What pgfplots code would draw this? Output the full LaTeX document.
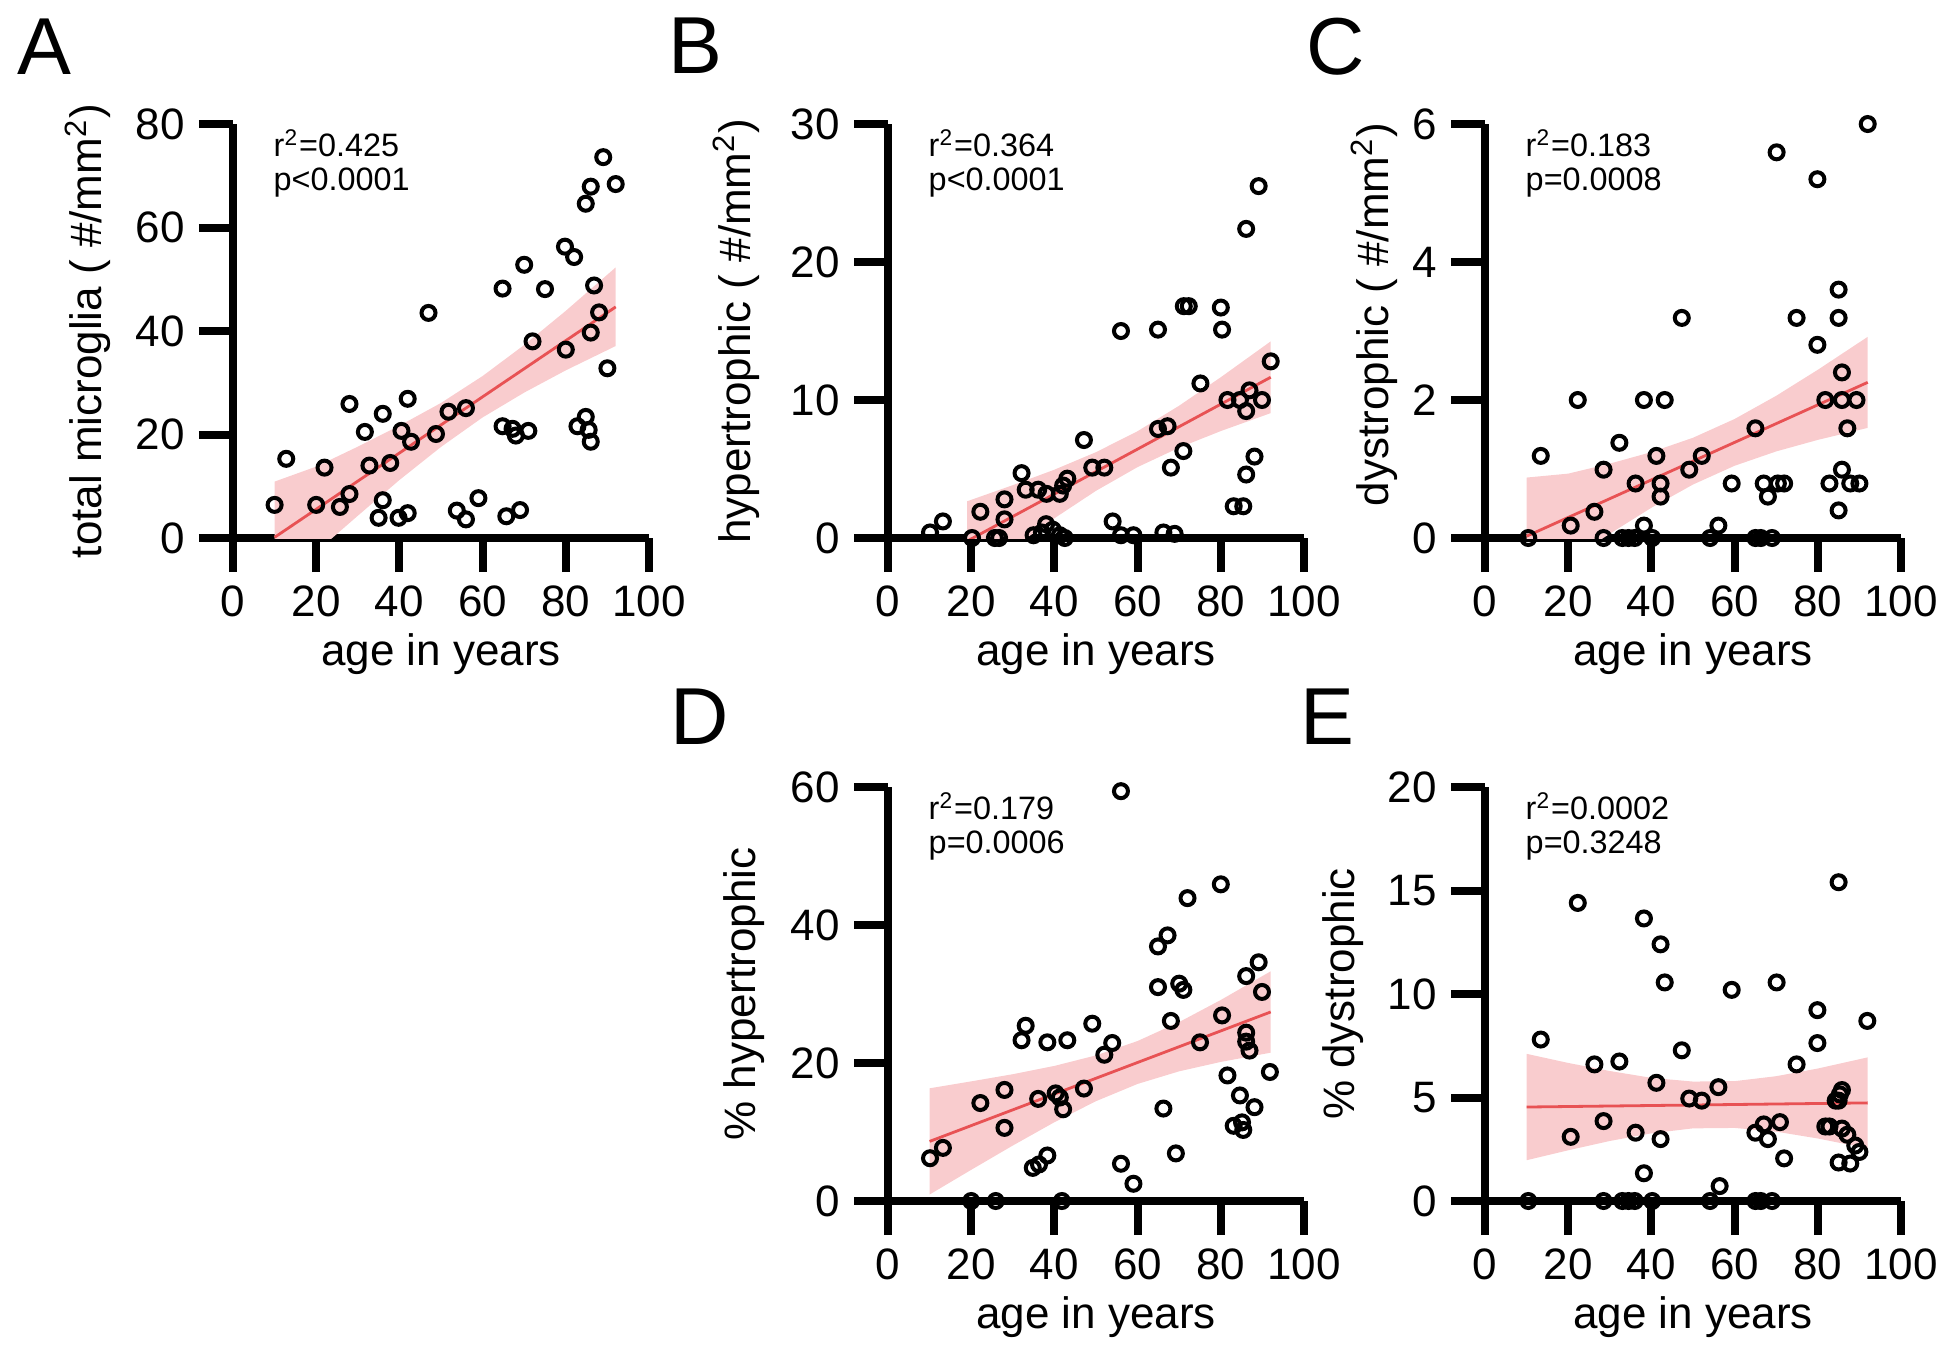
\documentclass[border=0pt]{standalone}
\usepackage{fontspec}
\setmainfont{Liberation Sans}
\usepackage{pgfplots}
\pgfplotsset{compat=1.18}
\definecolor{bandpink}{RGB}{249,204,206}
\definecolor{fitred}{RGB}{232,82,84}
\pgfplotsset{
  panel/.style={
    scale only axis, width=104pt, height=103.5pt,
    anchor=south west,
    axis lines=left,
    axis line style={-, line width=2pt, black},
    xmin=0, xmax=100, ymin=0,
    xtick={0,20,...,100},
    tick align=outside,
    major tick length=8.5pt,
    tick style={line width=2pt, black},
    /pgf/number format/assume math mode=true,
    ticklabel style={font=\fontsize{11}{13}\selectfont},
    label style={font=\fontsize{11}{13}\selectfont},
    xlabel={age in years},
    xlabel style={at={(axis description cs:0.5,-0.309)}, anchor=base},
    clip mode=individual,
  },
  pts/.style={only marks, mark=o, mark size=1.75pt, mark options={line width=1pt, draw=black}},
  band/.style={fill=bandpink, draw=none},
  fit/.style={fitred, line width=0.7pt, no marks},
}
\newcommand{\stat}[2]{\node[anchor=north west, inner sep=0pt, align=left, font=\fontsize{8.1}{8.5}\selectfont] at (rel axis cs:0.096,0.988) {#1\\#2};}
\begin{document}
\begin{tikzpicture}
\useasboundingbox (0,0) rectangle (487.5pt,338pt);
\node[anchor=base west, inner sep=0pt, font=\fontsize{20.2}{24}\selectfont] at (4.25pt,319.25pt) {A};
\node[anchor=base west, inner sep=0pt, font=\fontsize{20.2}{24}\selectfont] at (167pt,319.5pt) {B};
\node[anchor=base west, inner sep=0pt, font=\fontsize{20.2}{24}\selectfont] at (326.5pt,319.25pt) {C};
\node[anchor=base west, inner sep=0pt, font=\fontsize{20.2}{24}\selectfont] at (167.5pt,152pt) {D};
\node[anchor=base west, inner sep=0pt, font=\fontsize{20.2}{24}\selectfont] at (325pt,152pt) {E};

% Panel A
\begin{axis}[panel, at={(58.25pt,203.5pt)}, ymax=80, ytick={0,20,...,80},
  ylabel={total microglia ( \#/mm\textsuperscript{2})},
  ylabel style={at={(axis description cs:-0.349,0.5)}, anchor=center}]
\addplot[band] coordinates {(10,10.9)(20,13.8)(30,17.65)(40,21.7)(50,26.1)(60,31.3)(70,37.3)(80,43.9)(92,52.3)
 (92,37.1)(80,32.4)(70,28.1)(60,23.3)(50,17.6)(40,11.2)(30,4.3)(20,-2.7)(10,-10.7)} -- cycle;
\addplot[fit] coordinates {(10,0.13)(92,44.66)};
\addplot[pts] coordinates {(10,6.4)(12.8,15.3)(20,6.4)(22,13.6)(25.7,6.0)(28,8.5)(28,25.9)(31.7,20.5)(32.8,14.0)(36,24.0)(36,7.3)(35,3.9)(37.8,14.5)(39.8,3.9)(42,4.8)(40.5,20.7)(42.8,18.6)(42,26.9)(47,43.5)(48.8,20.1)(51.8,24.4)(56,25.1)(53.8,5.3)(56,3.6)(59,7.7)(64.8,48.2)(64.8,21.6)(65.7,4.2)(67.2,21.1)(68,19.8)(69,5.4)(70,52.8)(71,20.7)(72,38.0)(75,48.1)(79.8,56.3)(82,54.3)(80,36.4)(82.8,21.6)(84.8,23.4)(85.5,20.9)(86,18.6)(84.8,64.6)(86,67.9)(86.8,48.8)(86,39.7)(88,43.6)(89,73.6)(92,68.4)(90,32.8)};
\stat{r\textsuperscript{2}=0.425}{p<0.0001}
\end{axis}

% Panel B
\begin{axis}[panel, at={(222pt,203.5pt)}, ymax=30, ytick={0,10,20,30},
  ylabel={hypertrophic ( \#/mm\textsuperscript{2})},
  ylabel style={at={(axis description cs:-0.365,0.5)}, anchor=center}]
\addplot[band] coordinates {(19,2.66)(30,3.83)(40,4.95)(50,6.22)(60,7.74)(70,9.59)(80,11.65)(92,14.25)
 (92,9.05)(80,7.75)(70,6.55)(60,5.14)(50,3.42)(40,1.43)(30,-0.71)(19,-3.12)} -- cycle;
\addplot[fit] coordinates {(19,-0.23)(92,11.65)};
\addplot[pts] coordinates {(10.1,0.4)(13.2,1.2)(20.2,0)(22.2,1.9)(25.7,0)(26.7,0)(28,2.8)(28,1.35)(32.1,4.7)(33.1,3.5)(36.1,3.5)(38.1,3.2)(41.3,3.2)(42.1,3.8)(43.1,4.3)(35,0.2)(37,0.4)(38,1.0)(39.6,0.6)(41.3,0.2)(42.5,0)(47.1,7.1)(49.1,5.1)(52,5.1)(54,1.2)(56,15.0)(56,0.2)(59,0.2)(64.9,15.1)(64.9,7.9)(67.2,8.1)(66.2,0.4)(68.9,0.3)(68,5.1)(71,6.3)(71.1,16.8)(72.3,16.8)(75.1,11.2)(80,16.7)(80.3,15.1)(81.6,10.0)(83.1,2.3)(85.4,2.3)(84.6,10.0)(86.1,9.2)(86.9,10.7)(86.1,4.6)(86.1,22.4)(88.1,5.9)(89.1,25.5)(89.9,10.0)(92,12.8)};
\stat{r\textsuperscript{2}=0.364}{p<0.0001}
\end{axis}

% Panel C
\begin{axis}[panel, at={(371.25pt,203.5pt)}, ymax=6, ytick={0,2,4,6},
  ylabel={dystrophic ( \#/mm\textsuperscript{2})},
  ylabel style={at={(axis description cs:-0.266,0.54)}, anchor=center}]
\addplot[band] coordinates {(10,0.876)(20,0.933)(30,1.078)(40,1.245)(50,1.453)(60,1.725)(70,2.061)(80,2.438)(92,2.916)
 (92,1.596)(80,1.422)(70,1.255)(60,1.047)(50,0.775)(40,0.439)(30,0.062)(20,-0.337)(10,-0.82)} -- cycle;
\addplot[fit] coordinates {(10,0.026)(92,2.256)};
\addplot[pts] coordinates {(10.4,0)(13.4,1.19)(20.6,0.18)(22.3,2.0)(26.3,0.38)(28.5,0.99)(28.5,0)(32.3,1.38)(33,0)(34.5,0)(36,0)(36.2,0.79)(38.2,2.0)(38.2,0.18)(40.2,0)(41.2,1.19)(42.2,0.79)(42.2,0.6)(43.2,2.0)(47.3,3.19)(49.1,0.99)(52.1,1.19)(54.1,0)(56.1,0.18)(59.3,0.79)(65,1.59)(65,0)(66.3,0)(69,0)(67,0.79)(68,0.6)(70.1,5.59)(70.4,0.79)(71.9,0.79)(74.9,3.19)(79.9,5.2)(79.9,2.8)(81.8,2.0)(82.8,0.79)(85,0.4)(85,3.6)(85,3.19)(85.8,2.4)(85.8,2.0)(85.8,0.99)(87.1,1.59)(87.8,0.79)(89.3,2.0)(90,0.79)(92,6.0)};
\stat{r\textsuperscript{2}=0.183}{p=0.0008}
\end{axis}

% Panel D
\begin{axis}[panel, at={(222pt,37.75pt)}, ymax=60, ytick={0,20,40,60},
  ylabel={\% hypertrophic},
  ylabel style={at={(axis description cs:-0.346,0.5)}, anchor=center}]
\addplot[band] coordinates {(10,16.34)(20,17.34)(30,18.38)(40,19.58)(50,21.11)(60,23.19)(70,25.94)(80,29.14)(92,33.3)
 (92,21.5)(80,20.16)(70,18.8)(60,16.97)(50,14.47)(40,11.42)(30,8.04)(20,4.52)(10,0.94)} -- cycle;
\addplot[fit] coordinates {(10,8.64)(92,27.4)};
\addplot[pts] coordinates {(10.1,6.2)(13.2,7.7)(20,0)(25.9,0)(41.8,0)(22.2,14.2)(28,16.1)(28,10.6)(32.1,23.3)(33.1,25.4)(36.1,14.8)(34.8,4.8)(36.3,5.3)(38.3,6.6)(38.3,23.0)(40.3,15.6)(41.3,15.0)(42.1,13.3)(43.1,23.3)(47.1,16.3)(49.1,25.7)(52,21.2)(53.9,22.9)(56,59.4)(56,5.4)(59,2.5)(64.9,36.9)(67.2,38.5)(64.9,31.0)(66.2,13.4)(68,26.1)(69.2,6.9)(70,31.5)(71,30.6)(72,43.9)(75,23.0)(80,45.9)(80.3,26.9)(81.6,18.2)(83.1,10.9)(85.4,10.3)(85.1,11.4)(84.6,15.3)(86.1,32.6)(86.1,24.4)(86.1,23.1)(86.9,21.8)(88.1,13.6)(89.1,34.6)(89.9,30.3)(91.8,18.7)};
\stat{r\textsuperscript{2}=0.179}{p=0.0006}
\end{axis}

% Panel E
\begin{axis}[panel, at={(371.25pt,37.75pt)}, ymax=20, ytick={0,5,10,15,20},
  ylabel={\% dystrophic},
  ylabel style={at={(axis description cs:-0.341,0.5)}, anchor=center}]
\addplot[band] coordinates {(10,7.11)(20,6.67)(30,6.28)(40,5.95)(50,5.77)(60,5.79)(70,6.03)(80,6.40)(92,6.94)
 (92,2.54)(80,3.02)(70,3.35)(60,3.53)(50,3.51)(40,3.27)(30,2.90)(20,2.45)(10,1.97)} -- cycle;
\addplot[fit] coordinates {(10,4.54)(92,4.74)};
\addplot[pts] coordinates {(10.4,0)(13.4,7.8)(20.6,3.1)(22.3,14.4)(26.3,6.6)(28.5,3.86)(28.5,0)(32.3,6.74)(33,0)(34.5,0)(36,0)(36.2,3.3)(38.2,13.65)(38.2,1.34)(40.2,0)(41.2,5.71)(42.2,12.4)(42.2,2.99)(43.2,10.56)(47.3,7.28)(49.1,4.95)(52.1,4.85)(54.1,0)(56.1,5.5)(56.4,0.72)(59.3,10.2)(65,3.3)(65,0)(66.3,0)(69,0)(67,3.7)(68,2.99)(70.1,10.56)(70.9,3.81)(71.9,2.06)(74.9,6.6)(79.9,9.22)(79.9,7.63)(81.8,3.6)(82.8,3.6)(85,15.4)(85,1.86)(84.3,4.85)(85.3,5.15)(85.8,5.36)(85,4.85)(85.8,3.5)(87.1,3.2)(87.8,1.81)(89,2.68)(90,2.37)(91.9,8.7)};
\stat{r\textsuperscript{2}=0.0002}{p=0.3248}
\end{axis}
\end{tikzpicture}
\end{document}
